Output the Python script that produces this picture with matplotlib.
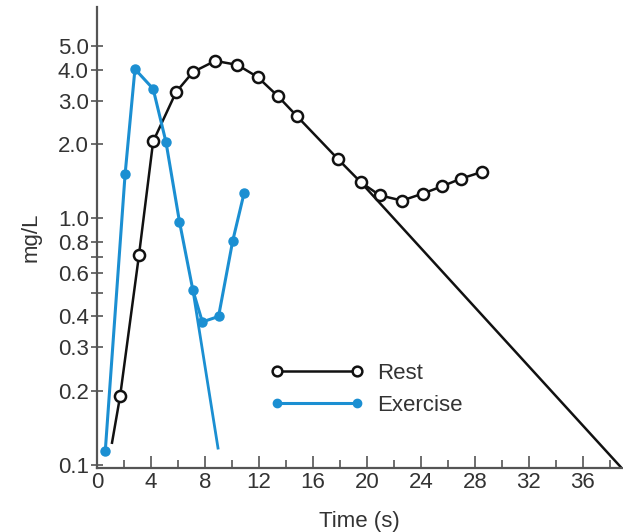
import numpy as np
import matplotlib.pyplot as plt

plt.rcParams['font.family'] = ['Liberation Sans', 'DejaVu Sans']

# Rest curve (s, mg/L)
rest_x = [1.1, 1.7, 3.1, 4.15, 5.85, 7.1, 8.75, 10.4, 11.9, 13.4, 14.8,
          17.85, 19.55, 20.95, 22.6, 24.15, 25.6, 27.0, 28.5]
rest_y = [0.123, 0.19, 0.71, 2.05, 3.25, 3.92, 4.35, 4.19, 3.74, 3.13, 2.6,
          1.74, 1.40, 1.24, 1.18, 1.26, 1.35, 1.45, 1.54]
rest_marked = slice(1, None)
# straight-line extrapolation of the rest decline
rest_ext_x = [19.55, 38.9]
rest_ext_y = [1.40, 0.097]

# Exercise curve
ex_x = [0.6, 2.07, 2.8, 4.15, 5.1, 6.1, 7.1, 7.8, 9.0, 10.05, 10.9]
ex_y = [0.114, 1.51, 4.03, 3.35, 2.04, 0.97, 0.51, 0.38, 0.40, 0.81, 1.27]
ex_ext_x = [7.1, 8.96]
ex_ext_y = [0.51, 0.117]

x_ticks = [0, 4, 8, 12, 16, 20, 24, 28, 32, 36]
y_ticks = [0.1, 0.2, 0.3, 0.4, 0.6, 0.8, 1.0, 2.0, 3.0, 4.0, 5.0]
y_minor = [0.5, 0.7]

blue = '#1b8fd2'
black = '#111111'
txt = '#333333'
fs = 16

fig = plt.figure(figsize=(6.23, 5.32), dpi=100)
ax = fig.add_axes([0.156, 0.12, 0.842, 0.867])

ax.plot(rest_ext_x, rest_ext_y, color=black, lw=1.8)
ax.plot(ex_ext_x, ex_ext_y, color=blue, lw=2.0)
ax.plot(rest_x, rest_y, color=black, lw=1.8)
ax.plot(rest_x[rest_marked], rest_y[rest_marked], 'o', color=black, mfc='white',
        mew=1.8, ms=8)
ax.plot(ex_x, ex_y, color=blue, lw=2.2, marker='o', ms=6.5)

# legend handles
ax.plot([], [], color=black, lw=1.8, marker='o', mfc='white', mew=1.8, ms=7,
        label='Rest')
ax.plot([], [], color=blue, lw=2.2, marker='o', ms=6, label='Exercise')
h, l = ax.get_legend_handles_labels()
leg = ax.legend(h, l, numpoints=2, handlelength=4.2, frameon=False, fontsize=fs,
                loc='upper left', bbox_to_anchor=(0.33, 0.229),
                handletextpad=0.6, labelspacing=0.5, borderaxespad=0,
                borderpad=0)
for t in leg.get_texts():
    t.set_color(txt)

ax.set_yscale('log')
ax.set_xlim(0, 38.9)
ax.set_ylim(0.097, 7.2)
ax.set_xticks(x_ticks)
ax.set_xticks(np.arange(2, 39, 2), minor=True)
ax.set_xticklabels([str(t) for t in x_ticks])
ax.set_yticks(y_ticks)
ax.set_yticklabels([f'{t:.1f}' for t in y_ticks])
ax.set_yticks(y_minor, minor=True)
ax.yaxis.set_minor_formatter(plt.NullFormatter())
ax.tick_params(axis='both', which='both', direction='in', labelsize=fs,
               color='#555555', labelcolor=txt, width=1.2, pad=2)
ax.tick_params(axis='x', which='major', length=9, pad=3)
ax.tick_params(axis='x', which='minor', length=6)
ax.tick_params(axis='y', which='both', length=8, direction='inout')

for s in ['top', 'right']:
    ax.spines[s].set_visible(False)
for s in ['left', 'bottom']:
    ax.spines[s].set_color('#555555')
    ax.spines[s].set_linewidth(1.6)

ax.set_xlabel('Time (s)', fontsize=fs, labelpad=13, color=txt)
ax.set_ylabel('mg/L', fontsize=fs, labelpad=12, color=txt)

fig.savefig('out.png', dpi=100)
